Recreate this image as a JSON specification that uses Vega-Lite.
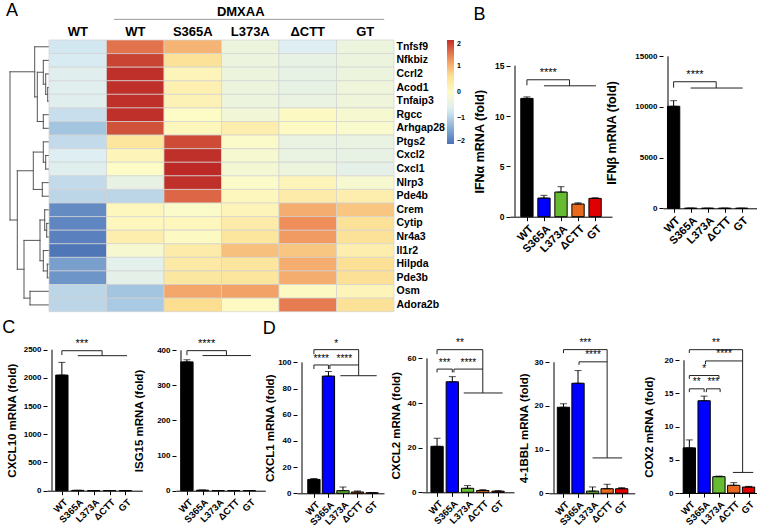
{
"$schema":"https://vega.github.io/schema/vega-lite/v6.json",
"padding":{"left":2,"top":2,"right":2,"bottom":2},
"spacing":6,
"vconcat":[
{"hconcat":[
{"width":39,"height":271.7,
"title":{"text":"A","frame":"group","anchor":"start","dx":-4,"offset":20},
"data":{"values":[
{"x1":1.3,"x2":1.3,"y1":3,"y2":4},{"x1":0,"x2":1.3,"y1":3,"y2":3},{"x1":0,"x2":1.3,"y1":4,"y2":4},
{"x1":3.3,"x2":3.3,"y1":2,"y2":3.5},{"x1":0,"x2":3.3,"y1":2,"y2":2},{"x1":1.3,"x2":3.3,"y1":3.5,"y2":3.5},
{"x1":5.7,"x2":5.7,"y1":1,"y2":2.75},{"x1":0,"x2":5.7,"y1":1,"y2":1},{"x1":3.3,"x2":5.7,"y1":2.75,"y2":2.75},
{"x1":5.7,"x2":5.7,"y1":5,"y2":6},{"x1":0,"x2":5.7,"y1":5,"y2":5},{"x1":0,"x2":5.7,"y1":6,"y2":6},
{"x1":11.7,"x2":11.7,"y1":1.875,"y2":5.5},{"x1":5.7,"x2":11.7,"y1":1.875,"y2":1.875},{"x1":5.7,"x2":11.7,"y1":5.5,"y2":5.5},
{"x1":14.3,"x2":14.3,"y1":0,"y2":3.6875},{"x1":0,"x2":14.3,"y1":0,"y2":0},{"x1":11.7,"x2":14.3,"y1":3.6875,"y2":3.6875},
{"x1":3.3,"x2":3.3,"y1":8,"y2":9},{"x1":0,"x2":3.3,"y1":8,"y2":8},{"x1":0,"x2":3.3,"y1":9,"y2":9},
{"x1":5.7,"x2":5.7,"y1":7,"y2":8.5},{"x1":0,"x2":5.7,"y1":7,"y2":7},{"x1":3.3,"x2":5.7,"y1":8.5,"y2":8.5},
{"x1":6.7,"x2":6.7,"y1":10,"y2":11},{"x1":0,"x2":6.7,"y1":10,"y2":10},{"x1":0,"x2":6.7,"y1":11,"y2":11},
{"x1":15.7,"x2":15.7,"y1":7.75,"y2":10.5},{"x1":5.7,"x2":15.7,"y1":7.75,"y2":7.75},{"x1":6.7,"x2":15.7,"y1":10.5,"y2":10.5},
{"x1":2.3,"x2":2.3,"y1":13,"y2":14},{"x1":0,"x2":2.3,"y1":13,"y2":13},{"x1":0,"x2":2.3,"y1":14,"y2":14},
{"x1":4.3,"x2":4.3,"y1":12,"y2":13.5},{"x1":0,"x2":4.3,"y1":12,"y2":12},{"x1":2.3,"x2":4.3,"y1":13.5,"y2":13.5},
{"x1":1.7,"x2":1.7,"y1":16,"y2":17},{"x1":0,"x2":1.7,"y1":16,"y2":16},{"x1":0,"x2":1.7,"y1":17,"y2":17},
{"x1":5.7,"x2":5.7,"y1":15,"y2":16.5},{"x1":0,"x2":5.7,"y1":15,"y2":15},{"x1":1.7,"x2":5.7,"y1":16.5,"y2":16.5},
{"x1":9,"x2":9,"y1":12.75,"y2":15.75},{"x1":4.3,"x2":9,"y1":12.75,"y2":12.75},{"x1":5.7,"x2":9,"y1":15.75,"y2":15.75},
{"x1":19,"x2":19,"y1":18,"y2":19},{"x1":0,"x2":19,"y1":18,"y2":18},{"x1":0,"x2":19,"y1":19,"y2":19},
{"x1":25,"x2":25,"y1":14.25,"y2":18.5},{"x1":9,"x2":25,"y1":14.25,"y2":14.25},{"x1":19,"x2":25,"y1":18.5,"y2":18.5},
{"x1":31.7,"x2":31.7,"y1":9.125,"y2":16.375},{"x1":15.7,"x2":31.7,"y1":9.125,"y2":9.125},{"x1":25,"x2":31.7,"y1":16.375,"y2":16.375},
{"x1":39,"x2":39,"y1":1.84,"y2":12.75},{"x1":14.3,"x2":39,"y1":1.84,"y2":1.84},{"x1":31.7,"x2":39,"y1":12.75,"y2":12.75}
]},
"mark":{"type":"rule","color":"#555555","strokeWidth":1,"strokeCap":"square"},
"encoding":{
"x":{"field":"x1","type":"quantitative","scale":{"domain":[0,39],"reverse":true,"nice":false,"zero":false},"axis":null},
"x2":{"field":"x2"},
"y":{"field":"y1","type":"quantitative","scale":{"domain":[-0.5,19.5],"reverse":true,"nice":false,"zero":false},"axis":null},
"y2":{"field":"y2"}}},
{"width":345,"height":271.7,
"data":{"values":[
{"g":"Tnfsf9","c":"WT (mock)","z":-0.75},{"g":"Tnfsf9","c":"WT (DMXAA)","z":1.5},{"g":"Tnfsf9","c":"S365A (DMXAA)","z":1.0},{"g":"Tnfsf9","c":"L373A (DMXAA)","z":-0.35},{"g":"Tnfsf9","c":"ΔCTT (DMXAA)","z":-0.65},{"g":"Tnfsf9","c":"GT (DMXAA)","z":-0.35},
{"g":"Nfkbiz","c":"WT (mock)","z":-0.7},{"g":"Nfkbiz","c":"WT (DMXAA)","z":1.85},{"g":"Nfkbiz","c":"S365A (DMXAA)","z":0.55},{"g":"Nfkbiz","c":"L373A (DMXAA)","z":-0.35},{"g":"Nfkbiz","c":"ΔCTT (DMXAA)","z":-0.45},{"g":"Nfkbiz","c":"GT (DMXAA)","z":-0.35},
{"g":"Ccrl2","c":"WT (mock)","z":-0.6},{"g":"Ccrl2","c":"WT (DMXAA)","z":2.0},{"g":"Ccrl2","c":"S365A (DMXAA)","z":0.15},{"g":"Ccrl2","c":"L373A (DMXAA)","z":-0.35},{"g":"Ccrl2","c":"ΔCTT (DMXAA)","z":-0.45},{"g":"Ccrl2","c":"GT (DMXAA)","z":-0.35},
{"g":"Acod1","c":"WT (mock)","z":-0.6},{"g":"Acod1","c":"WT (DMXAA)","z":2.0},{"g":"Acod1","c":"S365A (DMXAA)","z":0.25},{"g":"Acod1","c":"L373A (DMXAA)","z":-0.35},{"g":"Acod1","c":"ΔCTT (DMXAA)","z":-0.45},{"g":"Acod1","c":"GT (DMXAA)","z":-0.3},
{"g":"Tnfaip3","c":"WT (mock)","z":-0.6},{"g":"Tnfaip3","c":"WT (DMXAA)","z":2.0},{"g":"Tnfaip3","c":"S365A (DMXAA)","z":0.2},{"g":"Tnfaip3","c":"L373A (DMXAA)","z":-0.35},{"g":"Tnfaip3","c":"ΔCTT (DMXAA)","z":-0.4},{"g":"Tnfaip3","c":"GT (DMXAA)","z":-0.3},
{"g":"Rgcc","c":"WT (mock)","z":-0.85},{"g":"Rgcc","c":"WT (DMXAA)","z":2.0},{"g":"Rgcc","c":"S365A (DMXAA)","z":0.0},{"g":"Rgcc","c":"L373A (DMXAA)","z":-0.25},{"g":"Rgcc","c":"ΔCTT (DMXAA)","z":0.05},{"g":"Rgcc","c":"GT (DMXAA)","z":-0.15},
{"g":"Arhgap28","c":"WT (mock)","z":-1.15},{"g":"Arhgap28","c":"WT (DMXAA)","z":1.75},{"g":"Arhgap28","c":"S365A (DMXAA)","z":0.1},{"g":"Arhgap28","c":"L373A (DMXAA)","z":0.3},{"g":"Arhgap28","c":"ΔCTT (DMXAA)","z":0.05},{"g":"Arhgap28","c":"GT (DMXAA)","z":-0.1},
{"g":"Ptgs2","c":"WT (mock)","z":-0.9},{"g":"Ptgs2","c":"WT (DMXAA)","z":0.5},{"g":"Ptgs2","c":"S365A (DMXAA)","z":1.8},{"g":"Ptgs2","c":"L373A (DMXAA)","z":-0.05},{"g":"Ptgs2","c":"ΔCTT (DMXAA)","z":-0.4},{"g":"Ptgs2","c":"GT (DMXAA)","z":-0.4},
{"g":"Cxcl2","c":"WT (mock)","z":-0.65},{"g":"Cxcl2","c":"WT (DMXAA)","z":0.15},{"g":"Cxcl2","c":"S365A (DMXAA)","z":2.0},{"g":"Cxcl2","c":"L373A (DMXAA)","z":-0.15},{"g":"Cxcl2","c":"ΔCTT (DMXAA)","z":-0.4},{"g":"Cxcl2","c":"GT (DMXAA)","z":-0.45},
{"g":"Cxcl1","c":"WT (mock)","z":-0.6},{"g":"Cxcl1","c":"WT (DMXAA)","z":0.0},{"g":"Cxcl1","c":"S365A (DMXAA)","z":2.05},{"g":"Cxcl1","c":"L373A (DMXAA)","z":-0.2},{"g":"Cxcl1","c":"ΔCTT (DMXAA)","z":-0.35},{"g":"Cxcl1","c":"GT (DMXAA)","z":-0.5},
{"g":"Nlrp3","c":"WT (mock)","z":-0.9},{"g":"Nlrp3","c":"WT (DMXAA)","z":-0.45},{"g":"Nlrp3","c":"S365A (DMXAA)","z":2.0},{"g":"Nlrp3","c":"L373A (DMXAA)","z":-0.05},{"g":"Nlrp3","c":"ΔCTT (DMXAA)","z":0.15},{"g":"Nlrp3","c":"GT (DMXAA)","z":-0.15},
{"g":"Pde4b","c":"WT (mock)","z":-0.95},{"g":"Pde4b","c":"WT (DMXAA)","z":-0.95},{"g":"Pde4b","c":"S365A (DMXAA)","z":1.6},{"g":"Pde4b","c":"L373A (DMXAA)","z":0.1},{"g":"Pde4b","c":"ΔCTT (DMXAA)","z":0.35},{"g":"Pde4b","c":"GT (DMXAA)","z":0.3},
{"g":"Crem","c":"WT (mock)","z":-1.75},{"g":"Crem","c":"WT (DMXAA)","z":0.1},{"g":"Crem","c":"S365A (DMXAA)","z":-0.05},{"g":"Crem","c":"L373A (DMXAA)","z":0.15},{"g":"Crem","c":"ΔCTT (DMXAA)","z":1.05},{"g":"Crem","c":"GT (DMXAA)","z":0.85},
{"g":"Cytip","c":"WT (mock)","z":-1.8},{"g":"Cytip","c":"WT (DMXAA)","z":0.1},{"g":"Cytip","c":"S365A (DMXAA)","z":0.1},{"g":"Cytip","c":"L373A (DMXAA)","z":0.35},{"g":"Cytip","c":"ΔCTT (DMXAA)","z":1.3},{"g":"Cytip","c":"GT (DMXAA)","z":0.55},
{"g":"Nr4a3","c":"WT (mock)","z":-1.85},{"g":"Nr4a3","c":"WT (DMXAA)","z":0.3},{"g":"Nr4a3","c":"S365A (DMXAA)","z":0.05},{"g":"Nr4a3","c":"L373A (DMXAA)","z":0.5},{"g":"Nr4a3","c":"ΔCTT (DMXAA)","z":1.2},{"g":"Nr4a3","c":"GT (DMXAA)","z":0.55},
{"g":"Il1r2","c":"WT (mock)","z":-1.95},{"g":"Il1r2","c":"WT (DMXAA)","z":-0.15},{"g":"Il1r2","c":"S365A (DMXAA)","z":0.35},{"g":"Il1r2","c":"L373A (DMXAA)","z":0.9},{"g":"Il1r2","c":"ΔCTT (DMXAA)","z":0.85},{"g":"Il1r2","c":"GT (DMXAA)","z":0.3},
{"g":"Hilpda","c":"WT (mock)","z":-1.55},{"g":"Hilpda","c":"WT (DMXAA)","z":-0.55},{"g":"Hilpda","c":"S365A (DMXAA)","z":0.4},{"g":"Hilpda","c":"L373A (DMXAA)","z":0.5},{"g":"Hilpda","c":"ΔCTT (DMXAA)","z":1.05},{"g":"Hilpda","c":"GT (DMXAA)","z":0.6},
{"g":"Pde3b","c":"WT (mock)","z":-1.65},{"g":"Pde3b","c":"WT (DMXAA)","z":-0.5},{"g":"Pde3b","c":"S365A (DMXAA)","z":0.45},{"g":"Pde3b","c":"L373A (DMXAA)","z":0.5},{"g":"Pde3b","c":"ΔCTT (DMXAA)","z":1.05},{"g":"Pde3b","c":"GT (DMXAA)","z":0.6},
{"g":"Osm","c":"WT (mock)","z":-0.95},{"g":"Osm","c":"WT (DMXAA)","z":-1.15},{"g":"Osm","c":"S365A (DMXAA)","z":1.1},{"g":"Osm","c":"L373A (DMXAA)","z":1.15},{"g":"Osm","c":"ΔCTT (DMXAA)","z":0.05},{"g":"Osm","c":"GT (DMXAA)","z":0.15},
{"g":"Adora2b","c":"WT (mock)","z":-0.95},{"g":"Adora2b","c":"WT (DMXAA)","z":-1.1},{"g":"Adora2b","c":"S365A (DMXAA)","z":0.65},{"g":"Adora2b","c":"L373A (DMXAA)","z":0.05},{"g":"Adora2b","c":"ΔCTT (DMXAA)","z":1.45},{"g":"Adora2b","c":"GT (DMXAA)","z":0.55}
]},
"layer":[
{"mark":{"type":"rect","stroke":"#d2d2d2","strokeWidth":0.7},
"encoding":{
"x":{"field":"c","type":"nominal","sort":["WT (mock)","WT (DMXAA)","S365A (DMXAA)","L373A (DMXAA)","ΔCTT (DMXAA)","GT (DMXAA)"],"scale":{"paddingInner":0,"paddingOuter":0},
"axis":{"orient":"top","labelExpr":"split(datum.value,' ')[0]","labelAngle":0,"labelFontSize":13,"labelFontWeight":"bold","ticks":false,"domain":false,"title":null,"labelPadding":2}},
"y":{"field":"g","type":"nominal","sort":["Tnfsf9","Nfkbiz","Ccrl2","Acod1","Tnfaip3","Rgcc","Arhgap28","Ptgs2","Cxcl2","Cxcl1","Nlrp3","Pde4b","Crem","Cytip","Nr4a3","Il1r2","Hilpda","Pde3b","Osm","Adora2b"],"scale":{"paddingInner":0,"paddingOuter":0},
"axis":{"orient":"right","ticks":false,"domain":false,"title":null,"labelFontSize":10.5,"labelFontWeight":"bold","labelPadding":2}},
"color":{"field":"z","type":"quantitative","scale":{"domain":[-2,-1.3333,-0.6667,0,0.6667,1.3333,2],"range":["#4A72B5","#8FB5D9","#DDEEF3","#FDFBC6","#FCDD8F","#EE8A58","#C0302A"],"interpolate":"rgb"},
"legend":{"title":null,"values":[-2,-1,0,1,2],"gradientLength":104,"gradientThickness":7,"labelFontSize":7,"labelFontWeight":"bold","offset":2,"labelOverlap":false,"direction":"vertical","orient":"right","gradientStrokeWidth":0,"labelOffset":3,"padding":0}}}},
{"layer":[
{"data":{"values":[{"t":"DMXAA","x":3.334,"y":1.089}]},
"mark":{"type":"text","fontSize":13,"fontWeight":"bold","baseline":"alphabetic","align":"center","color":"#000"},
"encoding":{"x":{"field":"x","type":"quantitative","scale":{"domain":[0,6],"nice":false,"zero":false},"axis":null},
"y":{"field":"y","type":"quantitative","scale":{"domain":[0,1],"nice":false,"zero":false},"axis":null},"text":{"field":"t"}}},
{"data":{"values":[{"x1":1.13,"x2":5.83,"y":1.076}]},
"mark":{"type":"rule","color":"#9a9a9a","strokeWidth":1},
"encoding":{"x":{"field":"x1","type":"quantitative","axis":null},"x2":{"field":"x2"},"y":{"field":"y","type":"quantitative","axis":null}}}
]}
],
"resolve":{"scale":{"x":"independent","y":"independent"},"axis":{"x":"independent","y":"independent"}}},
{"width":116,"height":10,"data":{"values":[{}]},"mark":{"type":"point","opacity":0},"encoding":{}},
{"width":102,"height":176.7,
"title":{"text":"B","frame":"bounds","anchor":"start","offset":16},
"data":{"values":[{"g":"WT","i":0,"v":11.75,"hi":11.9},{"g":"S365A","i":1,"v":1.85,"hi":2.12},{"g":"L373A","i":2,"v":2.45,"hi":2.98},{"g":"ΔCTT","i":3,"v":1.26,"hi":1.38},{"g":"GT","i":4,"v":1.82,"hi":1.88}]},
"encoding":{
"x":{"field":"i","type":"quantitative","scale":{"domain":[-0.7,4.7],"nice":false,"zero":false},"axis":{"values":[0,1,2,3,4],"labelExpr":"['WT','S365A','L373A','ΔCTT','GT'][datum.value]","labelAngle":-45,"labelFontSize":11,"labelFontWeight":"bold","labelFlush":false,"labelOverlap":false,"tickSize":4,"title":null}},
"y":{"field":"v","type":"quantitative","scale":{"domain":[0,17.55],"nice":false},"axis":{"values":[0,5,10,15],"format":"d","domain":false,"tickSize":4,"labelFontSize":8.5,"labelFontWeight":"bold","labelOverlap":false,"title":"IFNα mRNA (fold)","titleFontSize":12.5,"titleFontWeight":"bold","titleY":101.2,"titlePadding":8}}},
"layer":[
{"mark":{"type":"bar","orient":"vertical","width":12.3,"stroke":"#000","strokeWidth":1},
"encoding":{"color":{"field":"g","type":"nominal","scale":{"domain":["WT","S365A","L373A","ΔCTT","GT"],"range":["#000000","#0000ff","#66bb33","#e8681e","#e00000"]},"legend":null}}},
{"mark":{"type":"errorbar","ticks":{"size":7,"color":"#000"},"rule":{"color":"#000"}},"encoding":{"y2":{"field":"hi"}}},
{"data":{"values":[{"i":-0.7,"v":0,"v2":15}]},"mark":{"type":"rule","color":"#000"},"encoding":{"y2":{"field":"v2"}}},
{"data":{"values":[{"i":0,"i2":0,"v":13.05,"v2":13.6},{"i":0,"i2":2.5,"v":13.6,"v2":13.6},{"i":2.5,"i2":2.5,"v":13.6,"v2":13.0},{"i":1,"i2":4.05,"v":13.0,"v2":13.0}]},
"mark":{"type":"rule","color":"#222"},"encoding":{"x2":{"field":"i2"},"y2":{"field":"v2"}}},
{"data":{"values":[{"i":1.25,"v":14.3,"t":"****"}]},"mark":{"type":"text","fontSize":11,"baseline":"middle","color":"#000"},"encoding":{"text":{"field":"t"}}}
]},
{"width":51,"height":10,"data":{"values":[{}]},"mark":{"type":"point","opacity":0},"encoding":{}},
{"width":96,"height":168.3,
"data":{"values":[{"g":"WT","i":0,"v":10070,"hi":10620},{"g":"S365A","i":1,"v":8,"hi":8},{"g":"L373A","i":2,"v":3,"hi":3},{"g":"ΔCTT","i":3,"v":4,"hi":4},{"g":"GT","i":4,"v":2,"hi":2}]},
"encoding":{
"x":{"field":"i","type":"quantitative","scale":{"domain":[-0.33,4.72],"nice":false,"zero":false},"axis":{"values":[0,1,2,3,4],"labelExpr":"['WT','S365A','L373A','ΔCTT','GT'][datum.value]","labelAngle":-45,"labelFontSize":11,"labelFontWeight":"bold","labelFlush":false,"labelOverlap":false,"tickSize":4,"title":null}},
"y":{"field":"v","type":"quantitative","scale":{"domain":[0,16609],"nice":false},"axis":{"values":[0,5000,10000,15000],"format":"d","domain":false,"tickSize":4,"labelFontSize":8,"labelFontWeight":"bold","labelOverlap":false,"title":"IFNβ mRNA (fold)","titleFontSize":12.5,"titleFontWeight":"bold","titleY":92.3,"titlePadding":16}}},
"layer":[
{"mark":{"type":"bar","orient":"vertical","width":12.3,"stroke":"#000","strokeWidth":1},
"encoding":{"color":{"field":"g","type":"nominal","scale":{"domain":["WT","S365A","L373A","ΔCTT","GT"],"range":["#000000","#0000ff","#66bb33","#e8681e","#e00000"]},"legend":null}}},
{"mark":{"type":"errorbar","ticks":{"size":7,"color":"#000"},"rule":{"color":"#000"}},"encoding":{"y2":{"field":"hi"}}},
{"data":{"values":[{"i":-0.33,"v":0,"v2":15000}]},"mark":{"type":"rule","color":"#000"},"encoding":{"y2":{"field":"v2"}}},
{"data":{"values":[{"i":0,"i2":0,"v":11900,"v2":12490},{"i":0,"i2":2.5,"v":12490,"v2":12490},{"i":2.5,"i2":2.5,"v":12490,"v2":11870},{"i":1,"i2":4.05,"v":11870,"v2":11870}]},
"mark":{"type":"rule","color":"#222"},"encoding":{"x2":{"field":"i2"},"y2":{"field":"v2"}}},
{"data":{"values":[{"i":1.25,"v":13150,"t":"****"}]},"mark":{"type":"text","fontSize":11,"baseline":"middle","color":"#000"},"encoding":{"text":{"field":"t"}}}
]}
],"spacing":0,"bounds":"flush"},
{"hconcat":[
{"width":36.3,"height":10,"data":{"values":[{}]},"mark":{"type":"point","opacity":0},"encoding":{}},
{"width":95.4,"height":141.7,
"title":{"text":"C","frame":"bounds","anchor":"start","dx":-4,"offset":1},
"data":{"values":[{"g":"WT","i":0,"v":2050,"hi":2275},{"g":"S365A","i":1,"v":6,"hi":6},{"g":"L373A","i":2,"v":2,"hi":2},{"g":"ΔCTT","i":3,"v":3,"hi":3},{"g":"GT","i":4,"v":2,"hi":2}]},
"encoding":{
"x":{"field":"i","type":"quantitative","scale":{"domain":[-0.62,4.75],"nice":false,"zero":false},"axis":{"values":[0,1,2,3,4],"labelExpr":"['WT','S365A','L373A','ΔCTT','GT'][datum.value]","labelAngle":-45,"labelFontSize":9.5,"labelFontWeight":"bold","labelFlush":false,"labelOverlap":false,"tickSize":4,"title":null}},
"y":{"field":"v","type":"quantitative","scale":{"domain":[0,2512.4],"nice":false},"axis":{"values":[0,500,1000,1500,2000,2500],"format":"d","domain":false,"tickSize":4,"labelFontSize":8,"labelFontWeight":"bold","labelOverlap":false,"title":"CXCL10 mRNA (fold)","titleFontSize":11.5,"titleFontWeight":"bold","titleY":71.2,"titlePadding":6}}},
"layer":[
{"mark":{"type":"bar","orient":"vertical","width":12.3,"stroke":"#000","strokeWidth":1},
"encoding":{"color":{"field":"g","type":"nominal","scale":{"domain":["WT","S365A","L373A","ΔCTT","GT"],"range":["#000000","#0000ff","#66bb33","#e8681e","#e00000"]},"legend":null}}},
{"mark":{"type":"errorbar","ticks":{"size":7,"color":"#000"},"rule":{"color":"#000"}},"encoding":{"y2":{"field":"hi"}}},
{"data":{"values":[{"i":-0.62,"v":0,"v2":2500}]},"mark":{"type":"rule","color":"#000"},"encoding":{"y2":{"field":"v2"}}},
{"data":{"values":[{"i":0,"i2":0,"v":2406,"v2":2482},{"i":0,"i2":2.53,"v":2482,"v2":2482},{"i":2.53,"i2":2.53,"v":2482,"v2":2394},{"i":1,"i2":4.1,"v":2394,"v2":2394}]},
"mark":{"type":"rule","color":"#222"},"encoding":{"x2":{"field":"i2"},"y2":{"field":"v2"}}},
{"data":{"values":[{"i":1.26,"v":2601,"t":"***"}]},"mark":{"type":"text","fontSize":11,"baseline":"middle","color":"#000"},"encoding":{"text":{"field":"t"}}}
]},
{"width":32.3,"height":10,"data":{"values":[{}]},"mark":{"type":"point","opacity":0},"encoding":{}},
{"width":89.3,"height":141.7,
"data":{"values":[{"g":"WT","i":0,"v":367,"hi":373},{"g":"S365A","i":1,"v":1.5,"hi":1.5},{"g":"L373A","i":2,"v":0.5,"hi":0.5},{"g":"ΔCTT","i":3,"v":0.5,"hi":0.5},{"g":"GT","i":4,"v":0.5,"hi":0.5}]},
"encoding":{
"x":{"field":"i","type":"quantitative","scale":{"domain":[-0.38,4.7],"nice":false,"zero":false},"axis":{"values":[0,1,2,3,4],"labelExpr":"['WT','S365A','L373A','ΔCTT','GT'][datum.value]","labelAngle":-45,"labelFontSize":9.5,"labelFontWeight":"bold","labelFlush":false,"labelOverlap":false,"tickSize":4,"title":null}},
"y":{"field":"v","type":"quantitative","scale":{"domain":[0,403.7],"nice":false},"axis":{"values":[0,100,200,300,400],"format":"d","domain":false,"tickSize":4,"labelFontSize":8,"labelFontWeight":"bold","labelOverlap":false,"title":"ISG15 mRNA (fold)","titleFontSize":11.5,"titleFontWeight":"bold","titleY":71.5,"titlePadding":12}}},
"layer":[
{"mark":{"type":"bar","orient":"vertical","width":12.3,"stroke":"#000","strokeWidth":1},
"encoding":{"color":{"field":"g","type":"nominal","scale":{"domain":["WT","S365A","L373A","ΔCTT","GT"],"range":["#000000","#0000ff","#66bb33","#e8681e","#e00000"]},"legend":null}}},
{"mark":{"type":"errorbar","ticks":{"size":7,"color":"#000"},"rule":{"color":"#000"}},"encoding":{"y2":{"field":"hi"}}},
{"data":{"values":[{"i":-0.38,"v":0,"v2":400}]},"mark":{"type":"rule","color":"#000"},"encoding":{"y2":{"field":"v2"}}},
{"data":{"values":[{"i":0,"i2":0,"v":386,"v2":399},{"i":0,"i2":2.53,"v":399,"v2":399},{"i":2.53,"i2":2.53,"v":399,"v2":385},{"i":1,"i2":4.1,"v":385,"v2":385}]},
"mark":{"type":"rule","color":"#222"},"encoding":{"x2":{"field":"i2"},"y2":{"field":"v2"}}},
{"data":{"values":[{"i":1.26,"v":418,"t":"****"}]},"mark":{"type":"text","fontSize":11,"baseline":"middle","color":"#000"},"encoding":{"text":{"field":"t"}}}
]},
{"width":30.7,"height":10,"data":{"values":[{}]},"mark":{"type":"point","opacity":0},"encoding":{}},
{"width":87,"height":144.3,
"title":{"text":"D","frame":"bounds","anchor":"start","dx":-2,"offset":1},
"data":{"values":[{"g":"WT","i":0,"v":10.6,"hi":11.3},{"g":"S365A","i":1,"v":89.5,"hi":93.0},{"g":"L373A","i":2,"v":2.0,"hi":4.8},{"g":"ΔCTT","i":3,"v":1.0,"hi":1.8},{"g":"GT","i":4,"v":0.4,"hi":0.5}]},
"encoding":{
"x":{"field":"i","type":"quantitative","scale":{"domain":[-0.82,4.48],"nice":false,"zero":false},"axis":{"values":[0,1,2,3,4],"labelExpr":"['WT','S365A','L373A','ΔCTT','GT'][datum.value]","labelAngle":-45,"labelFontSize":9.5,"labelFontWeight":"bold","labelFlush":false,"labelOverlap":false,"tickSize":4,"title":null}},
"y":{"field":"v","type":"quantitative","scale":{"domain":[0,110.2],"nice":false},"axis":{"values":[0,20,40,60,80,100],"format":"d","domain":false,"tickSize":4,"labelFontSize":8,"labelFontWeight":"bold","labelOverlap":false,"title":"CXCL1 mRNA (fold)","titleFontSize":11.5,"titleFontWeight":"bold","titleY":78.8,"titlePadding":2}}},
"layer":[
{"mark":{"type":"bar","orient":"vertical","width":12.3,"stroke":"#000","strokeWidth":1},
"encoding":{"color":{"field":"g","type":"nominal","scale":{"domain":["WT","S365A","L373A","ΔCTT","GT"],"range":["#000000","#0000ff","#66bb33","#e8681e","#e00000"]},"legend":null}}},
{"mark":{"type":"errorbar","ticks":{"size":7,"color":"#000"},"rule":{"color":"#000"}},"encoding":{"y2":{"field":"hi"}}},
{"data":{"values":[{"i":-0.82,"v":0,"v2":100}]},"mark":{"type":"rule","color":"#000"},"encoding":{"y2":{"field":"v2"}}},
{"data":{"values":[{"i":0,"i2":0,"v":106.3,"v2":109.7},{"i":0,"i2":3.08,"v":109.7,"v2":109.7},{"i":3.08,"i2":3.08,"v":109.7,"v2":89.8},{"i":0,"i2":0,"v":94.9,"v2":98},{"i":0,"i2":1,"v":98,"v2":98},{"i":1,"i2":1,"v":94.9,"v2":98},{"i":1.1,"i2":1.1,"v":94.9,"v2":98},{"i":1.1,"i2":3.08,"v":98,"v2":98},{"i":1.82,"i2":4.32,"v":89.8,"v2":89.8}]},
"mark":{"type":"rule","color":"#222"},"encoding":{"x2":{"field":"i2"},"y2":{"field":"v2"}}},
{"data":{"values":[{"i":1.54,"v":114,"t":"*"},{"i":0.5,"v":102.5,"t":"****"},{"i":2.09,"v":102.5,"t":"****"}]},"mark":{"type":"text","fontSize":10,"baseline":"middle","color":"#000"},"encoding":{"text":{"field":"t"}}}
]},
{"width":37.7,"height":10,"data":{"values":[{}]},"mark":{"type":"point","opacity":0},"encoding":{}},
{"width":92,"height":143.3,
"data":{"values":[{"g":"WT","i":0,"v":20.6,"hi":24.2},{"g":"S365A","i":1,"v":49.5,"hi":51.8},{"g":"L373A","i":2,"v":1.8,"hi":3.0},{"g":"ΔCTT","i":3,"v":0.8,"hi":1.2},{"g":"GT","i":4,"v":0.5,"hi":0.7}]},
"encoding":{
"x":{"field":"i","type":"quantitative","scale":{"domain":[-0.66,4.72],"nice":false,"zero":false},"axis":{"values":[0,1,2,3,4],"labelExpr":"['WT','S365A','L373A','ΔCTT','GT'][datum.value]","labelAngle":-45,"labelFontSize":9.5,"labelFontWeight":"bold","labelFlush":false,"labelOverlap":false,"tickSize":4,"title":null}},
"y":{"field":"v","type":"quantitative","scale":{"domain":[0,64.2],"nice":false},"axis":{"values":[0,20,40,60],"format":"d","domain":false,"tickSize":4,"labelFontSize":8,"labelFontWeight":"bold","labelOverlap":false,"title":"CXCL2 mRNA (fold)","titleFontSize":11.5,"titleFontWeight":"bold","titleY":76.3,"titlePadding":6}}},
"layer":[
{"mark":{"type":"bar","orient":"vertical","width":12.3,"stroke":"#000","strokeWidth":1},
"encoding":{"color":{"field":"g","type":"nominal","scale":{"domain":["WT","S365A","L373A","ΔCTT","GT"],"range":["#000000","#0000ff","#66bb33","#e8681e","#e00000"]},"legend":null}}},
{"mark":{"type":"errorbar","ticks":{"size":7,"color":"#000"},"rule":{"color":"#000"}},"encoding":{"y2":{"field":"hi"}}},
{"data":{"values":[{"i":-0.66,"v":0,"v2":60}]},"mark":{"type":"rule","color":"#000"},"encoding":{"y2":{"field":"v2"}}},
{"data":{"values":[{"i":0,"i2":0,"v":61.9,"v2":63.9},{"i":0,"i2":3.0,"v":63.9,"v2":63.9},{"i":3.0,"i2":3.0,"v":63.9,"v2":44.5},{"i":0,"i2":0,"v":53.7,"v2":55.2},{"i":0,"i2":1,"v":55.2,"v2":55.2},{"i":1,"i2":1,"v":53.7,"v2":55.2},{"i":1.11,"i2":1.11,"v":53.7,"v2":55.2},{"i":1.11,"i2":3.0,"v":55.2,"v2":55.2},{"i":1.75,"i2":4.3,"v":44.5,"v2":44.5}]},
"mark":{"type":"rule","color":"#222"},"encoding":{"x2":{"field":"i2"},"y2":{"field":"v2"}}},
{"data":{"values":[{"i":1.5,"v":66.9,"t":"**"},{"i":0.5,"v":57.9,"t":"***"},{"i":2.05,"v":57.9,"t":"****"}]},"mark":{"type":"text","fontSize":10,"baseline":"middle","color":"#000"},"encoding":{"text":{"field":"t"}}}
]},
{"width":34.3,"height":10,"data":{"values":[{}]},"mark":{"type":"point","opacity":0},"encoding":{}},
{"width":85.7,"height":144.3,
"data":{"values":[{"g":"WT","i":0,"v":19.7,"hi":20.5},{"g":"S365A","i":1,"v":25.2,"hi":28.1},{"g":"L373A","i":2,"v":0.5,"hi":1.45},{"g":"ΔCTT","i":3,"v":1.05,"hi":2.06},{"g":"GT","i":4,"v":1.05,"hi":1.3}]},
"encoding":{
"x":{"field":"i","type":"quantitative","scale":{"domain":[-0.65,4.55],"nice":false,"zero":false},"axis":{"values":[0,1,2,3,4],"labelExpr":"['WT','S365A','L373A','ΔCTT','GT'][datum.value]","labelAngle":-45,"labelFontSize":9.5,"labelFontWeight":"bold","labelFlush":false,"labelOverlap":false,"tickSize":4,"title":null}},
"y":{"field":"v","type":"quantitative","scale":{"domain":[0,33.04],"nice":false},"axis":{"values":[0,10,20,30],"format":"d","domain":false,"tickSize":4,"labelFontSize":8,"labelFontWeight":"bold","labelOverlap":false,"title":"4-1BBL mRNA (fold)","titleFontSize":11.5,"titleFontWeight":"bold","titleY":78.8,"titlePadding":5}}},
"layer":[
{"mark":{"type":"bar","orient":"vertical","width":12.3,"stroke":"#000","strokeWidth":1},
"encoding":{"color":{"field":"g","type":"nominal","scale":{"domain":["WT","S365A","L373A","ΔCTT","GT"],"range":["#000000","#0000ff","#66bb33","#e8681e","#e00000"]},"legend":null}}},
{"mark":{"type":"errorbar","ticks":{"size":7,"color":"#000"},"rule":{"color":"#000"}},"encoding":{"y2":{"field":"hi"}}},
{"data":{"values":[{"i":-0.65,"v":0,"v2":30}]},"mark":{"type":"rule","color":"#000"},"encoding":{"y2":{"field":"v2"}}},
{"data":{"values":[{"i":0,"i2":0,"v":32.1,"v2":32.9},{"i":0,"i2":3.0,"v":32.9,"v2":32.9},{"i":3.0,"i2":3.0,"v":32.9,"v2":8.1},{"i":1.07,"i2":1.07,"v":29.4,"v2":30.1},{"i":1.07,"i2":3.0,"v":30.1,"v2":30.1},{"i":2.0,"i2":4.03,"v":8.1,"v2":8.1}]},
"mark":{"type":"rule","color":"#222"},"encoding":{"x2":{"field":"i2"},"y2":{"field":"v2"}}},
{"data":{"values":[{"i":1.5,"v":34.4,"t":"***"},{"i":2.03,"v":31.7,"t":"****"}]},"mark":{"type":"text","fontSize":10,"baseline":"middle","color":"#000"},"encoding":{"text":{"field":"t"}}}
]},
{"width":44,"height":10,"data":{"values":[{}]},"mark":{"type":"point","opacity":0},"encoding":{}},
{"width":84.3,"height":144,
"data":{"values":[{"g":"WT","i":0,"v":6.8,"hi":8.0},{"g":"S365A","i":1,"v":13.9,"hi":14.6},{"g":"L373A","i":2,"v":2.46,"hi":2.55},{"g":"ΔCTT","i":3,"v":1.16,"hi":1.56},{"g":"GT","i":4,"v":0.9,"hi":1.0}]},
"encoding":{
"x":{"field":"i","type":"quantitative","scale":{"domain":[-0.36,4.66],"nice":false,"zero":false},"axis":{"values":[0,1,2,3,4],"labelExpr":"['WT','S365A','L373A','ΔCTT','GT'][datum.value]","labelAngle":-45,"labelFontSize":9.5,"labelFontWeight":"bold","labelFlush":false,"labelOverlap":false,"tickSize":4,"title":null}},
"y":{"field":"v","type":"quantitative","scale":{"domain":[0,21.7],"nice":false},"axis":{"values":[0,5,10,15,20],"format":"d","domain":false,"tickSize":4,"labelFontSize":8,"labelFontWeight":"bold","labelOverlap":false,"title":"COX2 mRNA (fold)","titleFontSize":11.5,"titleFontWeight":"bold","titleY":77.7,"titlePadding":10}}},
"layer":[
{"mark":{"type":"bar","orient":"vertical","width":12.3,"stroke":"#000","strokeWidth":1},
"encoding":{"color":{"field":"g","type":"nominal","scale":{"domain":["WT","S365A","L373A","ΔCTT","GT"],"range":["#000000","#0000ff","#66bb33","#e8681e","#e00000"]},"legend":null}}},
{"mark":{"type":"errorbar","ticks":{"size":7,"color":"#000"},"rule":{"color":"#000"}},"encoding":{"y2":{"field":"hi"}}},
{"data":{"values":[{"i":-0.36,"v":0,"v2":20}]},"mark":{"type":"rule","color":"#000"},"encoding":{"y2":{"field":"v2"}}},
{"data":{"values":[{"i":0,"i2":0,"v":21.1,"v2":21.6},{"i":0,"i2":3.6,"v":21.6,"v2":21.6},{"i":3.6,"i2":3.6,"v":21.6,"v2":3.1},{"i":1.09,"i2":1.09,"v":19.4,"v2":19.9},{"i":1.09,"i2":3.6,"v":19.9,"v2":19.9},{"i":0,"i2":0,"v":17.2,"v2":17.7},{"i":0,"i2":2,"v":17.7,"v2":17.7},{"i":2,"i2":2,"v":17.2,"v2":17.7},{"i":0,"i2":0,"v":15.2,"v2":15.7},{"i":0,"i2":1,"v":15.7,"v2":15.7},{"i":1,"i2":1,"v":15.2,"v2":15.7},{"i":1.15,"i2":1.15,"v":15.2,"v2":15.7},{"i":1.15,"i2":2.08,"v":15.7,"v2":15.7},{"i":2.08,"i2":2.08,"v":15.2,"v2":15.7},{"i":2.94,"i2":4.32,"v":3.1,"v2":3.1}]},
"mark":{"type":"rule","color":"#222"},"encoding":{"x2":{"field":"i2"},"y2":{"field":"v2"}}},
{"data":{"values":[{"i":1.8,"v":22.6,"t":"**"},{"i":2.35,"v":21.0,"t":"****"},{"i":1.0,"v":18.7,"t":"*"},{"i":0.5,"v":16.7,"t":"**"},{"i":1.62,"v":16.7,"t":"***"}]},"mark":{"type":"text","fontSize":10,"baseline":"middle","color":"#000"},"encoding":{"text":{"field":"t"}}}
]}
],"spacing":0,"bounds":"flush"}
],
"config":{
"font":"Liberation Sans",
"view":{"stroke":null},
"axis":{"grid":false,"domainColor":"#000","tickColor":"#000","labelColor":"#000","titleColor":"#000","domainWidth":1,"tickWidth":1,"labelOverlap":false},
"title":{"fontSize":18,"fontWeight":"normal","color":"#000"}
}
}
